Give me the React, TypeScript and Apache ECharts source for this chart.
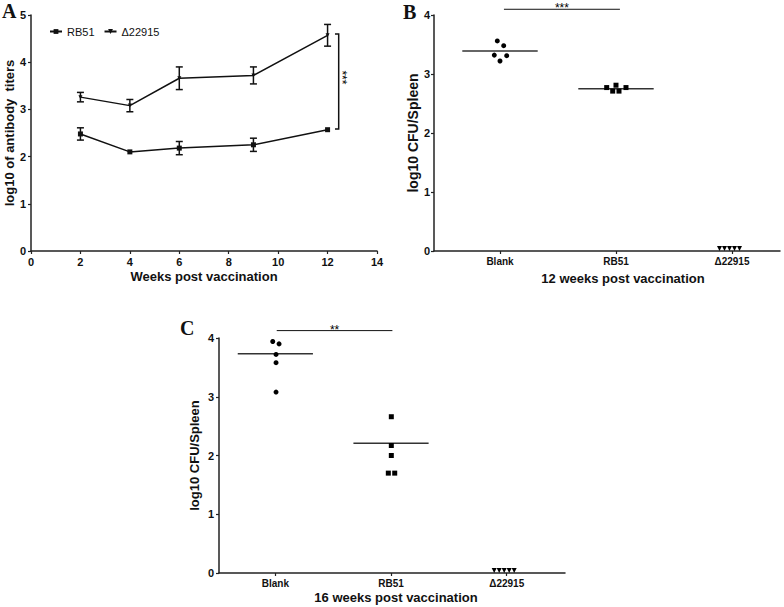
import React, { useEffect, useRef } from "react";
import * as echarts from "echarts";

// Panel A: antibody titers over time
const weeks = [2, 4, 6, 9, 12];
const rb51Mean = [2.48, 2.1, 2.18, 2.25, 2.57];
const rb51Err = [0.13, 0, 0.14, 0.14, 0];
const d22915Mean = [3.26, 3.08, 3.66, 3.72, 4.57];
const d22915Err = [0.1, 0.13, 0.24, 0.18, 0.23];

// Panels B, C: CFU per spleen
const groups = ["Blank", "RB51", "Δ22915"];
const b12Blank = [3.56, 3.48, 3.32, 3.31, 3.22];
const b12RB51 = [2.77, 2.81, 2.77, 2.71, 2.71];
const b12D22915 = [0, 0, 0, 0, 0];
const b12Means = [3.39, 2.75];
const c16Blank = [3.94, 3.9, 3.72, 3.58, 3.08];
const c16RB51 = [2.66, 2.17, 2.0, 1.7, 1.7];
const c16D22915 = [0, 0, 0, 0, 0];
const c16Means = [3.73, 2.21];

// styling: pixel jitter of the dots (style only)
const jitBBlank = [-2.7, 3.7, -5.7, 6.7, 0];
const jitBRB51 = [-9.3, 0, 10, -3.3, 3];
const jitCBlank = [-2.6, 3.7, 0.7, 0.7, 0.7];
const jitCRB51 = [0.3, 0.3, 0.3, -2.7, 3.7];
const jitD = [-12.5, -7.5, -2.5, 2.5, 7.5];

const FONT = "'Liberation Sans', Arial, sans-serif";
const INK = "#111";
const AX = "#222";

function axisCommon() {
  return {
    axisLine: { show: true, onZero: false, lineStyle: { color: AX, width: 1.5 } },
    axisTick: { show: true, length: 3, lineStyle: { color: AX, width: 1.2 } },
    splitLine: { show: false },
  };
}

export default function App() {
  const ref = useRef<HTMLDivElement>(null);
  useEffect(() => {
    if (!ref.current) return;
    const chart = echarts.init(ref.current, undefined, { renderer: "svg" });

    const errRender = (params: any, api: any) => {
      const x = api.value(0);
      const lo = api.value(1);
      const hi = api.value(2);
      if (hi - lo <= 0) return null;
      const a = api.coord([x, lo]);
      const b = api.coord([x, hi]);
      const w = 3.5;
      const st = { stroke: INK, lineWidth: 1.5 };
      return {
        type: "group",
        children: [
          { type: "line", shape: { x1: a[0], y1: a[1], x2: b[0], y2: b[1] }, style: st },
          { type: "line", shape: { x1: a[0] - w, y1: a[1], x2: a[0] + w, y2: a[1] }, style: st },
          { type: "line", shape: { x1: b[0] - w, y1: b[1], x2: b[0] + w, y2: b[1] }, style: st },
        ],
      };
    };

    const meanRender = (params: any, api: any) => {
      const x = api.value(0);
      const y = api.value(1);
      const a = api.coord([x - 0.325, y]);
      const b = api.coord([x + 0.325, y]);
      return {
        type: "line",
        shape: { x1: a[0], y1: a[1], x2: b[0], y2: b[1] },
        style: { stroke: "#333", lineWidth: 1.5 },
      };
    };

    const sigRender = (label: string) => (params: any, api: any) => {
      const x1 = api.value(0);
      const x2 = api.value(1);
      const y = api.value(2);
      const a = api.coord([x1, y]);
      const b = api.coord([x2, y]);
      return {
        type: "group",
        children: [
          { type: "line", shape: { x1: a[0], y1: a[1], x2: b[0], y2: b[1] }, style: { stroke: INK, lineWidth: 1 } },
          {
            type: "text",
            x: (a[0] + b[0]) / 2,
            y: a[1] - 1,
            style: { text: label, fontFamily: FONT, fontSize: 12, fill: "#000", align: "center", verticalAlign: "middle" },
          },
        ],
      };
    };

    const bracketRender = (params: any, api: any) => {
      const xl = api.value(0);
      const xr = api.value(1);
      const ylo = api.value(2);
      const yhi = api.value(3);
      const tl = api.coord([xl, yhi]);
      const tr = api.coord([xr, yhi]);
      const br = api.coord([xr, ylo]);
      const bl = api.coord([xl, ylo]);
      return {
        type: "group",
        children: [
          {
            type: "polyline",
            shape: { points: [tl, tr, br, bl] },
            style: { stroke: INK, lineWidth: 1.5, fill: "none" },
          },
          {
            type: "text",
            x: tr[0] + 3,
            y: (tr[1] + br[1]) / 2 - 4,
            rotation: -Math.PI / 2,
            style: { text: "***", fontFamily: FONT, fontSize: 12, fill: "#000", align: "center", verticalAlign: "middle" },
          },
        ],
      };
    };

    const mk = (idx: number, vals: number[], jit: number[], dy = 0) =>
      vals.map((v, i) => ({ value: [idx, v], symbolOffset: [jit[i], dy] }));

    const catAxis = (gi: number, min: number, max: number, namePadLeft: number, nameGap: number) => ({
      type: "value",
      gridIndex: gi,
      min,
      max,
      ...axisCommon(),
      axisTick: { show: true, length: 3, customValues: [0, 1, 2], lineStyle: { color: AX, width: 1.2 } },
      axisLabel: {
        customValues: [0, 1, 2],
        formatter: (v: number) => groups[Math.round(v)] ?? "",
        fontFamily: FONT,
        fontWeight: "bold",
        fontSize: 10,
        color: INK,
        margin: 5,
      },
      name: gi === 1 ? "12 weeks post vaccination" : "16 weeks post vaccination",
      nameLocation: "middle",
      nameGap,
      nameTextStyle: {
        fontFamily: FONT,
        fontWeight: "bold",
        fontSize: 13,
        color: INK,
        padding: [0, 0, 0, namePadLeft],
      },
    });

    const black = { color: "#000", opacity: 1 };
    const scat = (name: string, ax: number, symbol: string, data: any[], rotate = 0) => ({
      name,
      type: "scatter",
      xAxisIndex: ax,
      yAxisIndex: ax,
      clip: false,
      symbol,
      symbolRotate: rotate,
      symbolSize: 5,
      itemStyle: { color: "#000", opacity: 1 },
      data,
    });

    const option: any = {
      animation: false,
      backgroundColor: "#fff",
      textStyle: { fontFamily: FONT },
      grid: [
        { left: 31, top: 15, width: 346, height: 236 },
        { left: 434, top: 15, width: 346, height: 236 },
        { left: 219, top: 338, width: 346, height: 235 },
      ],
      legend: {
        left: 44,
        top: 21,
        itemWidth: 12,
        itemHeight: 6,
        itemGap: 9,
        data: ["RB51", "Δ22915"],
        textStyle: { fontFamily: FONT, fontSize: 11, color: INK },
      },
      xAxis: [
        {
          type: "value",
          gridIndex: 0,
          min: 0,
          max: 14,
          interval: 2,
          ...axisCommon(),
          axisLabel: { fontFamily: FONT, fontWeight: "bold", fontSize: 11, color: INK, margin: 5 },
          name: "Weeks post vaccination",
          nameLocation: "middle",
          nameGap: 19,
          nameTextStyle: { fontFamily: FONT, fontWeight: "bold", fontSize: 13, color: INK },
        },
        catAxis(1, -0.569, 2.414, 32, 21),
        catAxis(2, -0.487, 2.504, 8, 18),
      ],
      yAxis: [
        {
          type: "value",
          gridIndex: 0,
          min: 0,
          max: 5,
          interval: 1,
          ...axisCommon(),
          axisLabel: { fontFamily: FONT, fontWeight: "bold", fontSize: 11, color: INK, margin: 5 },
          name: "log10 of antibody  titers",
          nameLocation: "middle",
          nameGap: 14,
          nameTextStyle: { fontFamily: FONT, fontWeight: "bold", fontSize: 13, color: INK },
        },
        {
          type: "value",
          gridIndex: 1,
          min: 0,
          max: 4,
          interval: 1,
          ...axisCommon(),
          axisLabel: { fontFamily: FONT, fontWeight: "bold", fontSize: 11, color: INK, margin: 4 },
          name: "log10 CFU/Spleen",
          nameLocation: "middle",
          nameGap: 9,
          nameTextStyle: { fontFamily: FONT, fontWeight: "bold", fontSize: 14, color: INK },
        },
        {
          type: "value",
          gridIndex: 2,
          min: 0,
          max: 4,
          interval: 1,
          ...axisCommon(),
          axisLabel: { fontFamily: FONT, fontWeight: "bold", fontSize: 11, color: INK, margin: 5 },
          name: "log10 CFU/Spleen",
          nameLocation: "middle",
          nameGap: 18,
          nameTextStyle: { fontFamily: FONT, fontWeight: "bold", fontSize: 13, color: INK },
        },
      ],
      series: [
        {
          name: "RB51",
          type: "line",
          xAxisIndex: 0,
          yAxisIndex: 0,
          data: weeks.map((w, i) => [w, rb51Mean[i]]),
          symbol: "rect",
          symbolSize: 5,
          lineStyle: { color: INK, width: 1.5 },
          itemStyle: { color: INK },
          z: 3,
        },
        {
          name: "Δ22915",
          type: "line",
          xAxisIndex: 0,
          yAxisIndex: 0,
          data: weeks.map((w, i) => [w, d22915Mean[i]]),
          symbol: "triangle",
          symbolRotate: 180,
          symbolSize: 4,
          lineStyle: { color: INK, width: 1.5 },
          itemStyle: { color: INK },
          z: 3,
        },
        {
          name: "errRB51",
          type: "custom",
          xAxisIndex: 0,
          yAxisIndex: 0,
          itemStyle: black,
          renderItem: errRender,
          data: weeks.map((w, i) => [w, rb51Mean[i] - rb51Err[i], rb51Mean[i] + rb51Err[i]]),
          z: 4,
        },
        {
          name: "errD",
          type: "custom",
          xAxisIndex: 0,
          yAxisIndex: 0,
          itemStyle: black,
          renderItem: errRender,
          data: weeks.map((w, i) => [w, d22915Mean[i] - d22915Err[i], d22915Mean[i] + d22915Err[i]]),
          z: 4,
        },
        {
          name: "bracketA",
          type: "custom",
          xAxisIndex: 0,
          yAxisIndex: 0,
          itemStyle: black,
          renderItem: bracketRender,
          clip: false,
          data: [[12.3, 12.45, 2.585, 4.6]],
        },
        // Panel B
        scat("B Blank", 1, "circle", mk(0, b12Blank, jitBBlank)),
        scat("B RB51", 1, "rect", mk(1, b12RB51, jitBRB51)),
        scat("B D22915", 1, "triangle", mk(2, b12D22915, jitD, -2.5), 180),
        {
          name: "B means",
          type: "custom",
          xAxisIndex: 1,
          yAxisIndex: 1,
          itemStyle: black,
          renderItem: meanRender,
          data: b12Means.map((m, i) => [i, m]),
        },
        {
          name: "sigB",
          type: "custom",
          xAxisIndex: 1,
          yAxisIndex: 1,
          itemStyle: black,
          clip: false,
          renderItem: sigRender("***"),
          data: [[0.034, 1.034, 4.097]],
        },
        // Panel C
        scat("C Blank", 2, "circle", mk(0, c16Blank, jitCBlank)),
        scat("C RB51", 2, "rect", mk(1, c16RB51, jitCRB51)),
        scat("C D22915", 2, "triangle", mk(2, c16D22915, jitD, -2.5), 180),
        {
          name: "C means",
          type: "custom",
          xAxisIndex: 2,
          yAxisIndex: 2,
          itemStyle: black,
          renderItem: meanRender,
          data: c16Means.map((m, i) => [i, m]),
        },
        {
          name: "sigC",
          type: "custom",
          xAxisIndex: 2,
          yAxisIndex: 2,
          itemStyle: black,
          clip: false,
          renderItem: sigRender("**"),
          data: [[0.012, 1.012, 4.126]],
        },
      ],
      graphic: [
        { type: "text", left: 2, top: 1, style: { text: "A", font: "bold 20px 'Liberation Serif', 'Times New Roman', serif", fill: INK } },
        { type: "text", left: 403, top: 2, style: { text: "B", font: "bold 20px 'Liberation Serif', 'Times New Roman', serif", fill: INK } },
        { type: "text", left: 180, top: 318, style: { text: "C", font: "bold 20px 'Liberation Serif', 'Times New Roman', serif", fill: INK } },
      ],
    };
    chart.setOption(option);
    return () => chart.dispose();
  }, []);
  return (
    <div
      ref={ref}
      style={{ position: "fixed", left: 0, top: 0, width: 784, height: 607, background: "#fff" }}
    />
  );
}
